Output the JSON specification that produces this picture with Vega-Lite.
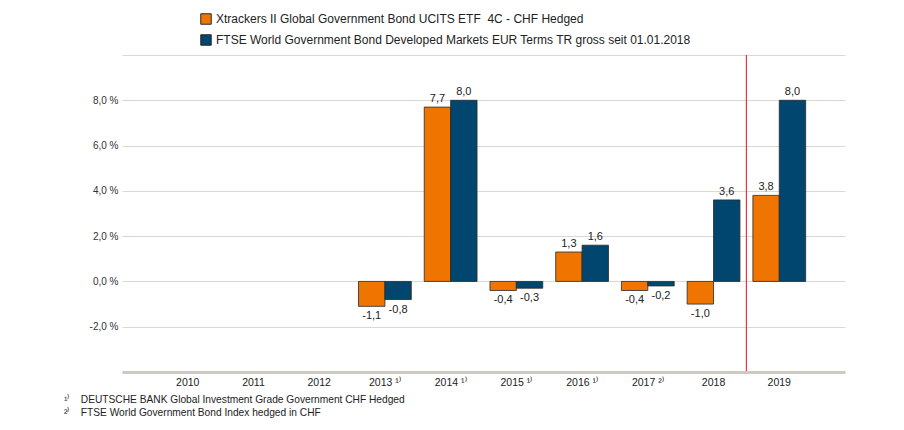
{
  "$schema": "https://vega.github.io/schema/vega-lite/v6.json",
  "width": 723,
  "height": 317,
  "autosize": {"type": "none"},
  "padding": {"left": 122, "top": 55, "right": 59, "bottom": 58},
  "background": "white",
  "config": {
    "locale": {"number": {"decimal": ",", "thousands": ".", "grouping": [3], "currency": ["", " €"], "minus": "-"}},
    "font": "Liberation Sans",
    "view": {"stroke": null}
  },
  "title": {
    "text": ["¹⁾\u00a0\u00a0\u00a0\u00a0DEUTSCHE BANK Global Investment Grade Government CHF Hedged", "²⁾\u00a0\u00a0\u00a0\u00a0FTSE World Government Bond Index hedged in CHF"],
    "orient": "bottom",
    "anchor": "start",
    "dx": -25,
    "offset": 7,
    "fontSize": 10.2,
    "fontWeight": "normal",
    "color": "#222222",
    "lineHeight": 13
  },
  "datasets": {
    "bars": [
      {"year": "2013", "series": "Xtrackers II Global Government Bond UCITS ETF\u00a0 4C - CHF Hedged", "value": -1.1},
      {"year": "2013", "series": "FTSE World Government Bond Developed Markets EUR Terms TR gross seit 01.01.2018", "value": -0.8},
      {"year": "2014", "series": "Xtrackers II Global Government Bond UCITS ETF\u00a0 4C - CHF Hedged", "value": 7.7},
      {"year": "2014", "series": "FTSE World Government Bond Developed Markets EUR Terms TR gross seit 01.01.2018", "value": 8.0},
      {"year": "2015", "series": "Xtrackers II Global Government Bond UCITS ETF\u00a0 4C - CHF Hedged", "value": -0.4},
      {"year": "2015", "series": "FTSE World Government Bond Developed Markets EUR Terms TR gross seit 01.01.2018", "value": -0.3},
      {"year": "2016", "series": "Xtrackers II Global Government Bond UCITS ETF\u00a0 4C - CHF Hedged", "value": 1.3},
      {"year": "2016", "series": "FTSE World Government Bond Developed Markets EUR Terms TR gross seit 01.01.2018", "value": 1.6},
      {"year": "2017", "series": "Xtrackers II Global Government Bond UCITS ETF\u00a0 4C - CHF Hedged", "value": -0.4},
      {"year": "2017", "series": "FTSE World Government Bond Developed Markets EUR Terms TR gross seit 01.01.2018", "value": -0.2},
      {"year": "2018", "series": "Xtrackers II Global Government Bond UCITS ETF\u00a0 4C - CHF Hedged", "value": -1.0},
      {"year": "2018", "series": "FTSE World Government Bond Developed Markets EUR Terms TR gross seit 01.01.2018", "value": 3.6},
      {"year": "2019", "series": "Xtrackers II Global Government Bond UCITS ETF\u00a0 4C - CHF Hedged", "value": 3.8},
      {"year": "2019", "series": "FTSE World Government Bond Developed Markets EUR Terms TR gross seit 01.01.2018", "value": 8.0}
    ],
    "marker": [{"year": "2019"}]
  },
  "layer": [
    {
      "data": {"name": "bars"},
      "mark": {"type": "bar", "stroke": "#2a2a2a", "strokeWidth": 0.8},
      "encoding": {
        "x": {
          "field": "year", "type": "nominal",
          "scale": {"domain": ["2010","2011","2012","2013","2014","2015","2016","2017","2018","2019"], "paddingInner": 0, "paddingOuter": 0.5},
          "axis": {
            "title": null,
            "labelAngle": 0,
            "labelFontSize": 10.5,
            "labelColor": "#222222",
            "labelPadding": 5,
            "ticks": false,
            "domainColor": "#cfcac1",
            "domainWidth": 3,
            "zindex": 1,
            "labelExpr": "datum.value == '2017' ? datum.value + '  ²⁾' : (indexof(['2013','2014','2015','2016'], datum.value) >= 0 ? datum.value + '  ¹⁾' : datum.value)"
          }
        },
        "xOffset": {
          "field": "series", "type": "nominal",
          "scale": {"domain": ["Xtrackers II Global Government Bond UCITS ETF\u00a0 4C - CHF Hedged", "FTSE World Government Bond Developed Markets EUR Terms TR gross seit 01.01.2018"], "paddingInner": 0, "paddingOuter": 0.245}
        },
        "y": {
          "field": "value", "type": "quantitative",
          "scale": {"domain": [-4, 10], "nice": false},
          "axis": {
            "title": null,
            "values": [-4, -2, 0, 2, 4, 6, 8, 10],
            "format": ".1f",
            "labelExpr": "datum.value == -4 || datum.value == 10 ? '' : datum.label + ' %'",
            "labelFontSize": 10,
            "labelColor": "#333333",
            "labelPadding": 4,
            "ticks": false,
            "domain": false,
            "gridColor": "#dcd8d0",
            "gridWidth": 1.2
          }
        },
        "color": {
          "field": "series", "type": "nominal",
          "scale": {"domain": ["Xtrackers II Global Government Bond UCITS ETF\u00a0 4C - CHF Hedged", "FTSE World Government Bond Developed Markets EUR Terms TR gross seit 01.01.2018"], "range": ["#ef7400", "#00466e"]},
          "legend": {
            "title": null,
            "orient": "none",
            "legendX": 78,
            "legendY": -42,
            "symbolType": "square",
            "symbolSize": 110,
            "symbolStrokeColor": "#2a2a2a",
            "symbolStrokeWidth": 1,
            "labelFontSize": 12,
            "labelColor": "#222222",
            "labelLimit": 600,
            "rowPadding": 5
          }
        }
      }
    },
    {
      "data": {"name": "bars"},
      "transform": [{"filter": "datum.value >= 0"}],
      "mark": {"type": "text", "baseline": "bottom", "dy": -3, "fontSize": 11, "color": "#222222"},
      "encoding": {
        "x": {"field": "year", "type": "nominal"},
        "xOffset": {"field": "series", "type": "nominal"},
        "y": {"field": "value", "type": "quantitative"},
        "text": {"field": "value", "type": "quantitative", "format": ".1f"}
      }
    },
    {
      "data": {"name": "bars"},
      "transform": [{"filter": "datum.value < 0"}],
      "mark": {"type": "text", "baseline": "top", "dy": 4, "fontSize": 11, "color": "#222222"},
      "encoding": {
        "x": {"field": "year", "type": "nominal"},
        "xOffset": {"field": "series", "type": "nominal"},
        "y": {"field": "value", "type": "quantitative"},
        "text": {"field": "value", "type": "quantitative", "format": ".1f"}
      }
    },
    {
      "data": {"name": "marker"},
      "mark": {"type": "rule", "color": "#e8343a", "strokeWidth": 1.2},
      "encoding": {
        "x": {"field": "year", "type": "nominal", "bandPosition": 0}
      }
    }
  ]
}
